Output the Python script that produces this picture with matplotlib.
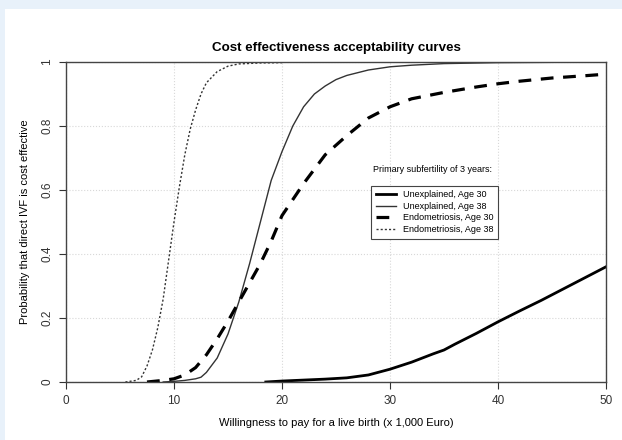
import matplotlib.pyplot as plt
from matplotlib.patches import Rectangle

plt.rcParams['font.family'] = ['Liberation Sans', 'DejaVu Sans']

# willingness to pay (x 1,000 Euro) and probability
unexp30_x = [18.5, 20, 22, 24, 26, 28, 30, 32, 34, 35, 36, 38, 40, 42, 44, 46, 48, 50]
unexp30_y = [0.0, 0.003, 0.006, 0.009, 0.013, 0.022, 0.04, 0.062, 0.088, 0.10, 0.118, 0.152, 0.188, 0.222, 0.255, 0.29, 0.325, 0.36]

unexp38_x = [9, 10, 11, 12, 12.5, 13, 14, 15, 15.5, 16, 17, 18, 19, 20, 21, 22, 23, 24, 25, 26, 28, 30, 32, 35, 40, 45, 50]
unexp38_y = [0.0, 0.002, 0.005, 0.01, 0.015, 0.03, 0.075, 0.15, 0.2, 0.25, 0.37, 0.5, 0.63, 0.72, 0.8, 0.86, 0.9, 0.925, 0.945, 0.958, 0.975, 0.985, 0.99, 0.995, 0.998, 0.999, 1.0]

endo30_x = [7.5, 9, 10, 11, 12, 13, 14, 15, 16, 17, 18, 19, 20, 22, 24, 26, 28, 30, 32, 35, 38, 40, 42, 45, 48, 50]
endo30_y = [0.0, 0.005, 0.01, 0.022, 0.045, 0.085, 0.135, 0.19, 0.25, 0.31, 0.37, 0.44, 0.52, 0.62, 0.71, 0.77, 0.825, 0.86, 0.885, 0.905, 0.922, 0.932, 0.94, 0.95, 0.957, 0.962]

endo38_x = [5.5, 6.5, 7, 7.5, 8, 8.5, 9, 9.5, 10, 10.5, 11, 11.5, 12, 12.5, 13, 14, 15, 16, 18, 20]
endo38_y = [0.0, 0.005, 0.016, 0.05, 0.1, 0.17, 0.26, 0.38, 0.5, 0.61, 0.71, 0.79, 0.85, 0.9, 0.935, 0.97, 0.987, 0.994, 0.997, 0.998]

xticks = [0, 10, 20, 30, 40, 50]
yticks = [0, 0.2, 0.4, 0.6, 0.8, 1]
ytick_labels = ['0', '0.2', '0.4', '0.6', '0.8', '1']

fig = plt.figure(figsize=(6.22, 4.40), dpi=100, facecolor='#e8f1fa')
fig.patches.append(Rectangle((5/622, 0), 1, 1 - 9/440, transform=fig.transFigure,
                             facecolor='white', edgecolor='none', zorder=-1))
ax = fig.add_axes([66/622, 58/440, 540/622, 320/440])
ax.set_zorder(1)

ax.plot(unexp30_x, unexp30_y, color='black', lw=2.0, label='Unexplained, Age 30')
ax.plot(unexp38_x, unexp38_y, color='#333333', lw=1.0, label='Unexplained, Age 38')
ax.plot(endo30_x, endo30_y, color='black', lw=2.3, ls=(0, (4, 3)), label='Endometriosis, Age 30')
ax.plot(endo38_x, endo38_y, color='#333333', lw=1.0, ls=(0, (1.5, 1.5)), label='Endometriosis, Age 38')

ax.set_xlim(0, 50)
ax.set_ylim(0, 1)
ax.set_xticks(xticks)
ax.set_yticks(yticks)
ax.set_yticklabels(ytick_labels, rotation=90, va='center')
ax.tick_params(direction='out', length=5, labelsize=8.5, colors='#333333', pad=4)
for s in ax.spines.values():
    s.set_color('#444444')
    s.set_linewidth(1.0)
ax.grid(True, color='#d8d8d8', ls=':', lw=0.8)
ax.set_axisbelow(True)

ax.set_title('Cost effectiveness acceptability curves', fontsize=9.6, fontweight='bold', pad=8)
ax.set_xlabel('Willingness to pay for a live birth (x 1,000 Euro)', fontsize=8, labelpad=8)
ax.set_ylabel('Probability that direct IVF is cost effective', fontsize=8, labelpad=8)

ax.text(0.569, 0.663, 'Primary subfertility of 3 years:', transform=ax.transAxes,
        fontsize=6.5, va='center', ha='left')
leg = ax.legend(loc='upper left', bbox_to_anchor=(0.557, 0.628), fontsize=6.5,
                frameon=True, fancybox=False, edgecolor='#444444', framealpha=1,
                handlelength=2.2, borderpad=0.5, labelspacing=0.3, handletextpad=0.8)
leg.get_frame().set_linewidth(0.8)

fig.savefig('out.png', dpi=100, facecolor=fig.get_facecolor())
